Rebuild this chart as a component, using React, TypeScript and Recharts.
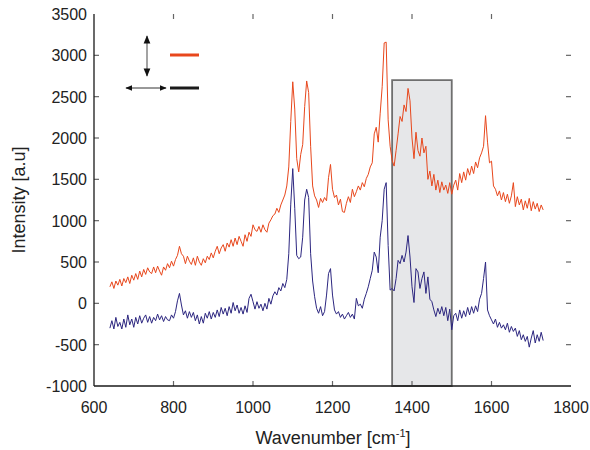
import React from 'react';
import { LineChart, Line, XAxis, YAxis, ReferenceArea, ReferenceLine } from 'recharts';

const wavenumbers = [
  640,645,650,655,660,665,670,675,680,685,690,695,700,705,710,715,720,725,730,735,
  740,745,750,755,760,765,770,775,780,785,790,795,800,805,810,815,820,825,830,835,
  840,845,850,855,860,865,870,875,880,885,890,895,900,905,910,915,920,925,930,935,
  940,945,950,955,960,965,970,975,980,985,990,995,1000,1005,1010,1015,1020,1025,1030,1035,
  1040,1045,1050,1055,1060,1065,1070,1075,1080,1085,1090,1095,1100,1105,1110,1115,1120,1125,1130,1135,
  1140,1145,1150,1155,1160,1165,1170,1175,1180,1185,1190,1195,1200,1205,1210,1215,1220,1225,1230,1235,
  1240,1245,1250,1255,1260,1265,1270,1275,1280,1285,1290,1295,1300,1305,1310,1315,1320,1325,1330,1335,
  1340,1345,1350,1355,1360,1365,1370,1375,1380,1385,1390,1395,1400,1405,1410,1415,1420,1425,1430,1435,
  1440,1445,1450,1455,1460,1465,1470,1475,1480,1485,1490,1495,1500,1505,1510,1515,1520,1525,1530,1535,
  1540,1545,1550,1555,1560,1565,1570,1575,1580,1585,1590,1595,1600,1605,1610,1615,1620,1625,1630,1635,
  1640,1645,1650,1655,1660,1665,1670,1675,1680,1685,1690,1695,1700,1705,1710,1715,1720,1725,1730,
];

const redSeries = [
  200,260,180,270,220,290,210,300,250,320,240,340,280,360,290,390,320,410,350,430,
  380,360,440,370,450,390,340,440,400,480,430,510,450,530,580,690,600,570,480,570,
  510,470,550,460,570,500,460,540,490,570,530,610,550,630,690,600,670,710,630,730,
  680,770,690,790,710,810,750,690,830,750,860,810,950,890,870,930,860,950,890,860,
  970,1010,1060,1080,1150,1100,1190,1250,1310,1420,1650,2200,2680,2350,1750,1590,1800,1920,2380,2690,
  2550,1900,1420,1300,1250,1160,1270,1220,1280,1240,1520,1680,1380,1280,1310,1190,1260,1110,1100,1210,
  1290,1220,1380,1290,1350,1420,1370,1460,1410,1510,1560,1650,1700,2050,2130,1950,2300,2620,3150,3160,
  2220,1900,1730,1660,1850,2050,2260,2200,2400,2320,2600,2450,2000,1750,2070,1850,1780,2000,1820,1900,
  1500,1600,1420,1560,1370,1490,1340,1470,1370,1430,1330,1460,1320,1430,1490,1370,1570,1460,1590,1490,
  1630,1550,1660,1570,1710,1640,1760,1820,1900,2270,1950,1700,1720,1420,1380,1300,1360,1250,1340,1230,
  1320,1210,1300,1460,1170,1290,1190,1260,1130,1240,1150,1270,1120,1230,1140,1210,1110,1190,1130,
];

const blueSeries = [
  -300,-210,-310,-170,-280,-230,-310,-190,-290,-140,-260,-190,-290,-170,-250,-150,-240,-180,-140,-230,
  -160,-240,-170,-210,-130,-200,-150,-220,-160,-200,-210,-140,-180,-100,30,120,-20,-140,-90,-180,
  -100,-170,-110,-210,-140,-250,-160,-240,-120,-180,-100,-190,-110,-170,-80,-160,-50,-130,-60,-150,
  -40,-120,10,-90,-20,-120,-50,-130,-30,-110,60,110,20,-70,20,-60,-10,-90,0,-70,
  60,-10,90,140,100,190,150,240,190,290,600,1200,1630,1150,580,540,560,800,1250,1380,
  1280,600,270,80,-60,-120,-40,-150,-100,100,360,420,100,-80,-130,-100,-170,-130,-190,-150,
  -110,-170,-130,-190,60,-30,-10,-60,50,120,200,300,400,620,560,370,800,1000,1380,1460,
  700,160,180,150,300,520,480,580,500,620,820,560,200,10,420,380,180,300,380,120,
  320,50,20,-80,-160,-60,-130,-40,-150,-50,-210,-70,-320,-150,-120,-210,-80,-180,-90,-160,
  -50,-140,-40,-120,-30,-100,50,120,300,500,-80,-150,-200,-250,-190,-290,-230,-300,-260,-320,
  -240,-350,-280,-340,-300,-400,-330,-440,-380,-460,-400,-530,-420,-330,-480,-380,-460,-350,-450,
];

const xTicks = [600, 800, 1000, 1200, 1400, 1600, 1800];
const yTicks = [-1000, -500, 0, 500, 1000, 1500, 2000, 2500, 3000, 3500];
const xDomain = [600, 1800];
const yDomain = [-1000, 3500];
const box = { x1: 1350, x2: 1500, y1: -1000, y2: 2700 };

const data = wavenumbers.map((w, i) => ({ w, red: redSeries[i], blue: blueSeries[i] }));

const FONT = '"Liberation Sans", Arial, Helvetica, sans-serif';
const AXIS = '#1a1a1a';
const TICK_COLOR = '#666';
// inward tick length expressed in axis units (about 5 px)
const xTickLen = (xDomain[1] - xDomain[0]) * 5 / 477;
const yTickLen = (yDomain[1] - yDomain[0]) * 5 / 372;

const BottomTick = (p: any) => (
  <text x={p.x} y={p.y + 27} textAnchor="middle" fontSize={16} fontFamily={FONT} fill="#222">{p.payload.value}</text>
);
const LeftTick = (p: any) => (
  <text x={p.x - 7} y={p.y + 6} textAnchor="end" fontSize={16} fontFamily={FONT} fill="#222">{p.payload.value}</text>
);

export default function App() {
  const tickLines: any[] = [];
  xTicks.slice(1, -1).forEach((t) => {
    tickLines.push(<ReferenceLine key={'xb' + t} xAxisId="b" yAxisId="l" ifOverflow="visible" stroke={TICK_COLOR} strokeWidth={1.2}
      segment={[{ x: t, y: yDomain[0] }, { x: t, y: yDomain[0] + yTickLen }]} />);
    tickLines.push(<ReferenceLine key={'xt' + t} xAxisId="b" yAxisId="l" ifOverflow="visible" stroke={TICK_COLOR} strokeWidth={1.2}
      segment={[{ x: t, y: yDomain[1] }, { x: t, y: yDomain[1] - yTickLen }]} />);
  });
  yTicks.slice(1, -1).forEach((t) => {
    tickLines.push(<ReferenceLine key={'yl' + t} xAxisId="b" yAxisId="l" ifOverflow="visible" stroke={TICK_COLOR} strokeWidth={1.2}
      segment={[{ x: xDomain[0], y: t }, { x: xDomain[0] + xTickLen, y: t }]} />);
    tickLines.push(<ReferenceLine key={'yr' + t} xAxisId="b" yAxisId="l" ifOverflow="visible" stroke={TICK_COLOR} strokeWidth={1.2}
      segment={[{ x: xDomain[1], y: t }, { x: xDomain[1] - xTickLen, y: t }]} />);
  });
  return (
    <div style={{ position: 'absolute', left: 0, top: 0, width: 590, height: 450, background: '#fff' }}>
      <LineChart width={590} height={450} data={data} margin={{ top: 14, right: 19, bottom: 34, left: 34 }}>
        <XAxis xAxisId="b" dataKey="w" type="number" domain={xDomain} ticks={xTicks} orientation="bottom"
          height={30} tickSize={0} tickMargin={0} tickLine={false} tick={<BottomTick />} axisLine={{ stroke: AXIS, strokeWidth: 1.3 }} />
        <XAxis xAxisId="t" dataKey="w" type="number" domain={xDomain} ticks={xTicks} orientation="top"
          height={0} tickLine={false} tick={false} axisLine={{ stroke: AXIS, strokeWidth: 1.3 }} />
        <YAxis yAxisId="l" type="number" domain={yDomain} ticks={yTicks} orientation="left"
          width={60} tickSize={0} tickMargin={0} tickLine={false} tick={<LeftTick />} axisLine={{ stroke: AXIS, strokeWidth: 1.3 }} />
        <YAxis yAxisId="r" type="number" domain={yDomain} ticks={yTicks} orientation="right"
          width={0} tickLine={false} tick={false} axisLine={{ stroke: AXIS, strokeWidth: 1.3 }} />
        <ReferenceArea xAxisId="b" yAxisId="l" x1={box.x1} x2={box.x2} y1={box.y1} y2={box.y2}
          fill="#e6e7e9" fillOpacity={1} stroke="#6f6f6f" strokeWidth={1.8} />
        {tickLines}
        <Line xAxisId="b" yAxisId="l" dataKey="red" stroke="#e8471c" strokeWidth={1} dot={false} isAnimationActive={false} type="linear" />
        <Line xAxisId="b" yAxisId="l" dataKey="blue" stroke="#2c2680" strokeWidth={1} dot={false} isAnimationActive={false} type="linear" />
      </LineChart>
      <svg width={590} height={450} style={{ position: 'absolute', left: 0, top: 0, pointerEvents: 'none' }}>
        <defs>
          <marker id="ah" viewBox="0 0 10 10" refX="9" refY="5" markerWidth="7" markerHeight="7" orient="auto-start-reverse">
            <path d="M0,1 L10,5 L0,9 z" fill="#111" />
          </marker>
        </defs>
        <line x1={147} y1={36} x2={147} y2={76} stroke="#666" strokeWidth={1.2} markerStart="url(#ah)" markerEnd="url(#ah)" />
        <line x1={126} y1={88} x2={166} y2={88} stroke="#333" strokeWidth={1} markerStart="url(#ah)" markerEnd="url(#ah)" />
        <line x1={170} y1={55} x2={199} y2={55} stroke="#e8471c" strokeWidth={3} />
        <line x1={170} y1={88} x2={199} y2={88} stroke="#1a1a1a" strokeWidth={3} />
        <text x={20} y={200} transform="rotate(-90 20 200)" textAnchor="middle" dominantBaseline="middle" fontSize={18} fontFamily={FONT} fill="#222">Intensity [a.u]</text>
        <text x={333} y={444} textAnchor="middle" fontSize={18} fontFamily={FONT} fill="#222">
          Wavenumber [cm<tspan dy={-7} fontSize={11}>-1</tspan><tspan dy={7}>]</tspan>
        </text>
      </svg>
    </div>
  );
}
